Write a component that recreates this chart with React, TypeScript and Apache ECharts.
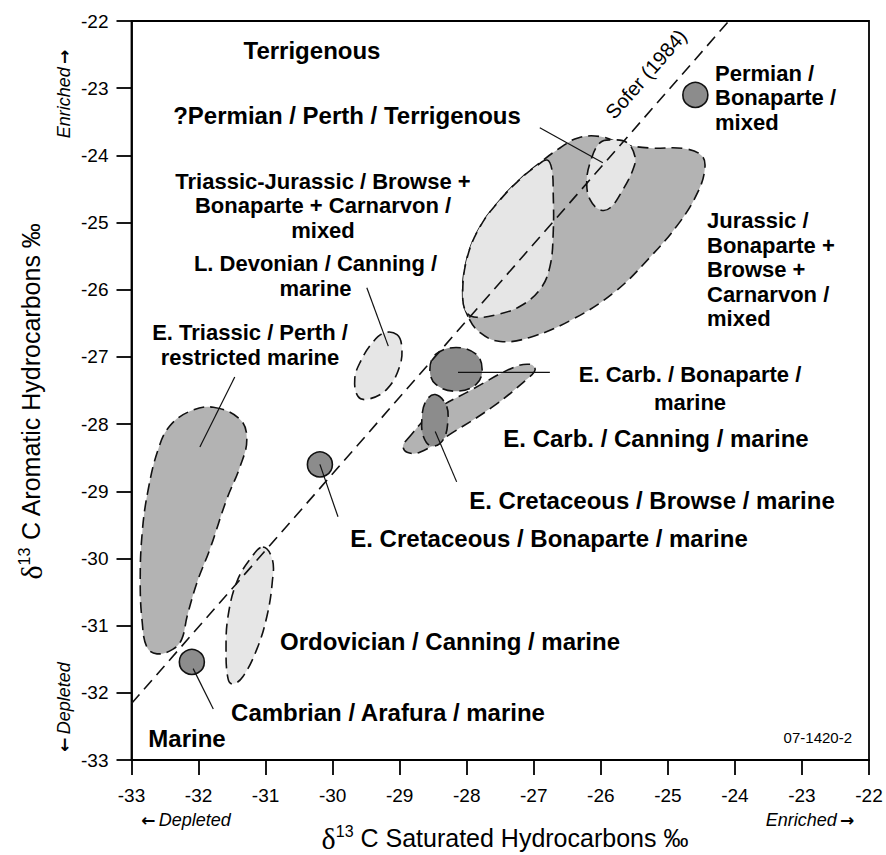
import React, { useEffect, useRef } from 'react';
import * as echarts from 'echarts';

// Axis ranges (per mil)
const X_MIN = -33;
const X_MAX = -22;
const Y_MIN = -33;
const Y_MAX = -22;
const TICK_STEP = 1;

// Sofer (1984) line: aro = 1.14 * sat + 5.46, drawn across the frame
const soferSat = [-33, -24.09];
const soferAro = [-32.16, -22];

// Fields: [sat, aro] outline vertices
const eTriassicPerth = [[-31.78,-27.75],[-31.38,-27.93],[-31.28,-28.23],[-31.38,-28.63],[-31.58,-29.12],[-31.83,-29.86],[-32.02,-30.35],[-32.17,-30.86],[-32.25,-31.20],[-32.38,-31.35],[-32.62,-31.42],[-32.77,-31.32],[-32.84,-30.95],[-32.87,-30.35],[-32.84,-29.61],[-32.75,-28.97],[-32.60,-28.37],[-32.43,-28.03],[-32.13,-27.81]];
const ordovicianCanning = [[-31.04,-29.83],[-30.90,-30.01],[-30.90,-30.35],[-30.98,-30.86],[-31.13,-31.35],[-31.34,-31.76],[-31.49,-31.87],[-31.56,-31.79],[-31.59,-31.35],[-31.56,-30.86],[-31.43,-30.35],[-31.23,-30.01]];
const jurassicMixed = [[-27.98,-26.40],[-28.06,-26.10],[-28.00,-25.55],[-27.80,-25.06],[-27.50,-24.66],[-27.21,-24.36],[-26.91,-24.11],[-26.61,-23.89],[-26.34,-23.74],[-26.01,-23.72],[-25.64,-23.84],[-25.27,-23.89],[-24.75,-23.90],[-24.49,-24.01],[-24.45,-24.21],[-24.55,-24.54],[-24.82,-24.99],[-25.27,-25.52],[-25.79,-26.03],[-26.42,-26.44],[-27.06,-26.71],[-27.50,-26.77],[-27.80,-26.64]];
const triassicJurassicMixed = [[-26.80,-24.07],[-26.73,-24.21],[-26.71,-24.56],[-26.71,-25.15],[-26.76,-25.66],[-26.91,-26.00],[-27.21,-26.25],[-27.55,-26.37],[-27.85,-26.41],[-28.00,-26.34],[-28.06,-26.10],[-28.00,-25.55],[-27.80,-25.06],[-27.50,-24.66],[-27.21,-24.36],[-26.95,-24.15]];
const permianPerth = [[-26.01,-23.81],[-25.82,-23.77],[-25.61,-23.81],[-25.49,-24.02],[-25.52,-24.21],[-25.67,-24.51],[-25.86,-24.78],[-26.01,-24.81],[-26.16,-24.66],[-26.21,-24.41],[-26.16,-24.11]];
const lDevonianCanning = [[-29.04,-26.67],[-28.97,-26.84],[-29.00,-27.14],[-29.19,-27.48],[-29.47,-27.63],[-29.62,-27.59],[-29.67,-27.33],[-29.59,-27.08],[-29.40,-26.78],[-29.22,-26.64]];
const eCarbCanning = [[-28.89,-28.23],[-28.50,-27.82],[-27.91,-27.48],[-27.31,-27.16],[-27.06,-27.11],[-26.98,-27.19],[-27.10,-27.33],[-27.61,-27.74],[-28.20,-28.12],[-28.70,-28.42],[-28.89,-28.42],[-28.95,-28.33]];
const eCarbBonaparte = [[-27.77,-27.19],[-27.86,-26.96],[-28.16,-26.86],[-28.46,-26.96],[-28.55,-27.19],[-28.46,-27.41],[-28.16,-27.51],[-27.86,-27.41]];
const eCretBrowse = [[-28.47,-27.56],[-28.31,-27.71],[-28.28,-27.94],[-28.35,-28.23],[-28.52,-28.33],[-28.64,-28.20],[-28.67,-27.94],[-28.61,-27.66]];

// Single oils: [sat, aro]
const permianBonaparte = [-24.59, -23.10];
const eCretBonaparte = [-30.19, -28.60];
const cambrianArafura = [-32.10, -31.54];

// Leader lines: [[sat1, aro1], [sat2, aro2]]
const leaders = [
  [[-26.91, -23.59], [-25.97, -24.11]],
  [[-29.49, -25.97], [-29.17, -26.84]],
  [[-31.46, -27.30], [-31.98, -28.34]],
  [[-28.13, -27.23], [-26.76, -27.23]],
  [[-28.47, -28.11], [-28.15, -28.86]],
  [[-30.19, -28.60], [-29.92, -29.38]],
  [[-32.08, -31.64], [-31.78, -32.24]],
];

const FILL = { dark: '#8c8c8c', mid: '#b3b3b3', light: '#e6e6e6' };

const FIELDS = [
  { pts: eTriassicPerth, tone: 'mid' },
  { pts: ordovicianCanning, tone: 'light' },
  { pts: jurassicMixed, tone: 'mid' },
  { pts: triassicJurassicMixed, tone: 'light' },
  { pts: permianPerth, tone: 'light' },
  { pts: lDevonianCanning, tone: 'light' },
  { pts: eCarbCanning, tone: 'mid' },
  { pts: eCarbBonaparte, tone: 'dark' },
  { pts: eCretBrowse, tone: 'dark' },
];

const SANS = '"Liberation Sans", Arial, Helvetica, sans-serif';

// label text, anchor x, y (px), alignment, font size, line height
const LABELS: [string, number, number, string, number, number][] = [
  ['Terrigenous', 312, 50, 'center', 24, 24],
  ['?Permian / Perth / Terrigenous', 347, 115, 'center', 24, 24],
  ['Triassic-Jurassic / Browse +\nBonaparte + Carnarvon /\nmixed', 323, 205.5, 'center', 22, 24.5],
  ['L. Devonian / Canning /\nmarine', 315.5, 276, 'center', 22, 24.5],
  ['E. Triassic / Perth /\nrestricted marine', 250, 345, 'center', 22, 25],
  ['E. Carb. / Bonaparte /\nmarine', 690, 388, 'center', 22, 28],
  ['E. Carb. / Canning / marine', 656, 438, 'center', 24, 24],
  ['E. Cretaceous / Browse / marine', 652, 500, 'center', 24, 24],
  ['E. Cretaceous / Bonaparte / marine', 549, 538, 'center', 24, 24],
  ['Ordovician / Canning / marine', 450, 641, 'center', 24, 24],
  ['Cambrian / Arafura / marine', 388, 712, 'center', 24, 24],
  ['Marine', 187, 738, 'center', 24, 24],
  ['Permian /\nBonaparte /\nmixed', 715, 97.5, 'left', 22, 24.5],
  ['Jurassic /\nBonaparte +\nBrowse +\nCarnarvon /\nmixed', 707, 269.5, 'left', 22, 24.5],
];

const titleRich = {
  d: { font: `30px "Liberation Serif", "Times New Roman", serif`, fill: '#000' },
  s: { font: `16px ${SANS}`, fill: '#000', verticalAlign: 'top' },
  t: { font: `25px ${SANS}`, fill: '#000' },
};

const arrowRich = {
  a: { font: `bold 17px "DejaVu Sans", sans-serif`, fill: '#000' },
  i: { font: `italic 18px ${SANS}`, fill: '#000' },
};

export default function App() {
  const ref = useRef<HTMLDivElement>(null);
  useEffect(() => {
    document.body.style.margin = '0';
    if (!ref.current) return;
    const chart = echarts.init(ref.current, null, { renderer: 'svg' });

    const graphics: any[] = LABELS.map(([t, x, y, a, fs, lh]) => ({
      type: 'text', x, y, z: 100,
      style: { text: t, font: `bold ${fs}px ${SANS}`, fill: '#000', align: a, verticalAlign: 'middle', lineHeight: lh },
    }));
    graphics.push(
      {
        type: 'text', x: 505, y: 838, z: 100,
        style: { text: '{d|δ}{s|13}{t| C Saturated Hydrocarbons ‰}', rich: titleRich, align: 'center', verticalAlign: 'middle' },
      },
      {
        type: 'text', x: 31, y: 401, rotation: Math.PI / 2, z: 100,
        style: { text: '{d|δ}{s|13}{t| C Aromatic Hydrocarbons ‰}', rich: titleRich, align: 'center', verticalAlign: 'middle' },
      },
      {
        type: 'text', x: 186, y: 820, z: 100,
        style: { text: '{a|←} {i|Depleted}', rich: arrowRich, align: 'center', verticalAlign: 'middle' },
      },
      {
        type: 'text', x: 810, y: 820, z: 100,
        style: { text: '{i|Enriched} {a|→}', rich: arrowRich, align: 'center', verticalAlign: 'middle' },
      },
      {
        type: 'text', x: 64, y: 94, rotation: Math.PI / 2, z: 100,
        style: { text: '{i|Enriched} {a|→}', rich: arrowRich, align: 'center', verticalAlign: 'middle' },
      },
      {
        type: 'text', x: 64, y: 707, rotation: Math.PI / 2, z: 100,
        style: { text: '{a|←} {i|Depleted}', rich: arrowRich, align: 'center', verticalAlign: 'middle' },
      },
      {
        type: 'text', x: 646, y: 74, rotation: 0.85, z: 100,
        style: { text: 'Sofer (1984)', font: `20px ${SANS}`, fill: '#000', align: 'center', verticalAlign: 'middle' },
      },
      {
        type: 'text', x: 852, y: 737, z: 100,
        style: { text: '07-1420-2', font: `15px ${SANS}`, fill: '#000', align: 'right', verticalAlign: 'middle' },
      }
    );

    const axisCommon = {
      type: 'value',
      interval: TICK_STEP,
      axisLine: { show: true, lineStyle: { color: '#000', width: 1.8 } },
      axisTick: { show: true, inside: false, length: 15, lineStyle: { color: '#000', width: 1.8 } },
      splitLine: { show: false },
      axisLabel: { color: '#000', fontSize: 19, fontFamily: SANS },
    };

    chart.setOption({
      animation: false,
      backgroundColor: '#fff',
      grid: {
        left: 131.5, top: 21, right: 17, bottom: 95,
        show: true, borderColor: '#000', borderWidth: 1.8, backgroundColor: 'transparent',
        outerBoundsMode: 'none',
      },
      xAxis: { ...axisCommon, min: X_MIN, max: X_MAX, axisLabel: { ...axisCommon.axisLabel, margin: 26 } },
      yAxis: { ...axisCommon, min: Y_MIN, max: Y_MAX, axisLabel: { ...axisCommon.axisLabel, margin: 23 } },
      graphic: graphics,
      series: [
        {
          type: 'custom',
          z: 2,
          clip: true,
          data: FIELDS.map((f) => f.pts[0]),
          renderItem: (params: any, api: any) => {
            const f = FIELDS[params.dataIndex];
            const points = f.pts.map((p) => api.coord(p));
            return {
              type: 'polygon',
              z2: params.dataIndex,
              shape: { points, smooth: 0.4 },
              style: { fill: (FILL as any)[f.tone], stroke: '#111', lineWidth: 1.6, lineDash: [11, 6] },
            };
          },
        },
        {
          type: 'line',
          z: 3,
          data: soferSat.map((s, i) => [s, soferAro[i]]),
          showSymbol: false,
          symbol: 'none',
          lineStyle: { color: '#111', width: 1.6, type: [12, 7] },
        },
        {
          type: 'scatter',
          z: 4,
          data: [permianBonaparte, eCretBonaparte, cambrianArafura],
          symbol: 'circle',
          symbolSize: 25,
          itemStyle: { color: FILL.dark, borderColor: '#111', borderWidth: 1.6, opacity: 1 },
        },
        {
          type: 'custom',
          z: 5,
          data: leaders.map((l) => l[0]),
          renderItem: (params: any, api: any) => {
            const l = leaders[params.dataIndex];
            const a = api.coord(l[0]);
            const b = api.coord(l[1]);
            return {
              type: 'line',
              shape: { x1: a[0], y1: a[1], x2: b[0], y2: b[1] },
              style: { stroke: '#111', lineWidth: 1.2 },
            };
          },
        },
      ],
    });
    return () => chart.dispose();
  }, []);
  return <div ref={ref} style={{ width: 886, height: 855 }} />;
}
